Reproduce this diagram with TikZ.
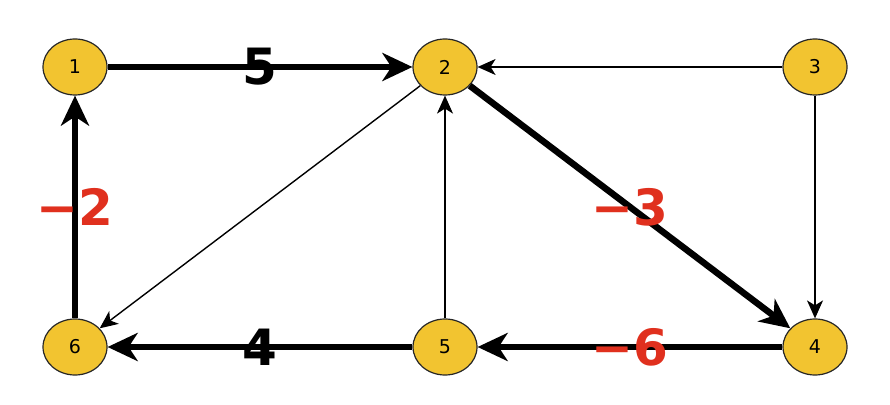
\documentclass[tikz,border=0pt]{standalone}
\usepackage{fontspec}
\setmainfont{DejaVu Sans}
\usetikzlibrary{shapes.geometric,arrows.meta}
\definecolor{vertexfill}{RGB}{242,196,48}
\definecolor{negred}{RGB}{224,48,30}

\begin{document}
\begin{tikzpicture}[x=1pt,y=1pt,node distance=370pt,
    vertex/.style={ellipse,draw=black!85,line width=1.2pt,fill=vertexfill,
      minimum width=64pt,minimum height=56pt,inner sep=0pt,font=\fontsize{19}{19}\selectfont},
    heavy/.style={line width=6.5pt,-{Stealth[length=30pt,width=28pt,inset=9pt]}},
    light/.style={line width=1.4pt,-{Stealth[length=18pt,width=16pt,inset=5pt]}},
    weight/.style={font=\fontsize{50}{50}\selectfont\bfseries,inner sep=0pt}]
    \useasboundingbox (0,0) rectangle (890,404);
    \node[vertex] (1) at (75,337) {1};
    \node[vertex,right of=1] (2) {2};
    \node[vertex,right of=2] (3) {3};
    \node[vertex,below of=3,yshift=90pt] (4) {4};
    \node[vertex,left of=4] (5) {5};
    \node[vertex,left of=5] (6) {6};

    \draw[light] (3) -- (2);
    \draw[light] (3) -- (4);
    \draw[light] (5) -- (2);
    \draw[light] (2) -- (6);
    \draw[heavy] (1) -- node[weight] {5} (2);
    \draw[heavy] (2) -- node[weight,text=negred] {−3} (4);
    \draw[heavy] (4) -- node[weight,text=negred] {−6} (5);
    \draw[heavy] (5) -- node[weight] {4} (6);
    \draw[heavy] (6) -- node[weight,text=negred] {−2} (1);
  \end{tikzpicture}
\end{document}
